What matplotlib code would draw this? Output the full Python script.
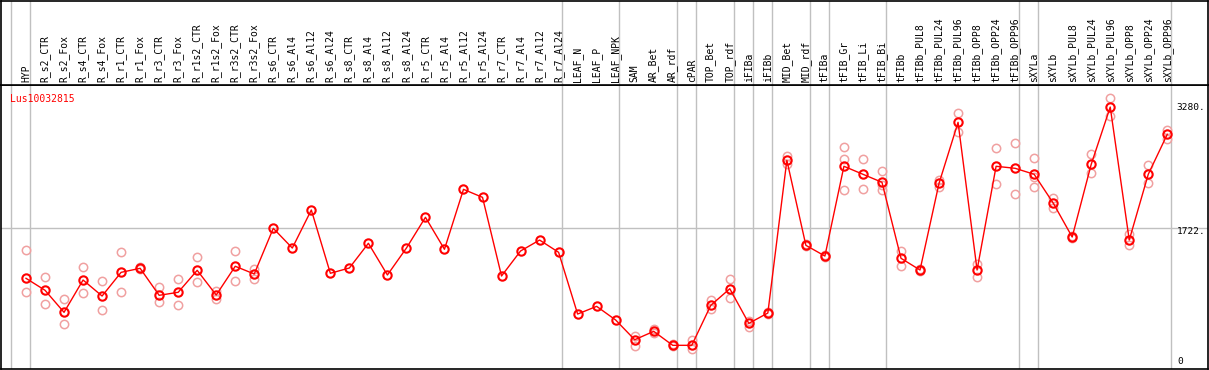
import matplotlib
matplotlib.use("Agg")
import matplotlib.pyplot as plt
import numpy as np

# sample names, left to right
samples = [
    "HYP", "R_s2_CTR", "R_s2_Fox", "R_s4_CTR", "R_s4_Fox", "R_r1_CTR", "R_r1_Fox",
    "R_r3_CTR", "R_r3_Fox", "R_r1s2_CTR", "R_r1s2_Fox", "R_r3s2_CTR", "R_r3s2_Fox",
    "R_s6_CTR", "R_s6_Al4", "R_s6_Al12", "R_s6_Al24", "R_s8_CTR", "R_s8_Al4",
    "R_s8_Al12", "R_s8_Al24", "R_r5_CTR", "R_r5_Al4", "R_r5_Al12", "R_r5_Al24",
    "R_r7_CTR", "R_r7_Al4", "R_r7_Al12", "R_r7_Al24", "LEAF_N", "LEAF_P", "LEAF_NPK",
    "SAM", "AR_Bet", "AR_rdf", "cPAR", "TOP_Bet", "TOP_rdf", "iFIBa", "iFIBb",
    "MID_Bet", "MID_rdf", "tFIBa", "tFIB_Gr", "tFIB_Li", "tFIB_Bi", "tFIBb",
    "tFIBb_PUL8", "tFIBb_PUL24", "tFIBb_PUL96", "tFIBb_OPP8", "tFIBb_OPP24", "tFIBb_OPP96",
    "sXYLa", "sXYLb", "sXYLb_PUL8", "sXYLb_PUL24", "sXYLb_PUL96", "sXYLb_OPP8",
    "sXYLb_OPP24", "sXYLb_OPP96",
]

# mean expression per sample
means = [
    1074, 920, 636, 1052, 846, 1151, 1203, 855, 894, 1177, 859, 1229, 1130,
    1718, 1464, 1954, 1139, 1207, 1525, 1117, 1464, 1860, 1448, 2220, 2117,
    1104, 1426, 1567, 1409, 614, 713, 537,
    283, 391, 211, 211, 726, 940, 494, 627,
    2594, 1499, 1361, 2517, 2414, 2311, 1332,
    1181, 2298, 3083, 1181, 2517, 2491,
    2414, 2044, 1606, 2542, 3280, 1567, 2414, 2929,
]

# individual replicates (empty where none are shown)
replicates = [
    [1439, 898], [1087, 739], [808, 482], [1216, 881], [1035, 662], [1413, 898],
    [1224, 1190], [958, 765], [1061, 726], [1345, 1023], [915, 811], [1426, 1035],
    [1194, 1061],
    [], [], [], [], [], [], [], [], [], [], [], [], [], [], [], [], [], [], [],
    [335, 198], [417, 370], [225, 200], [276, 164], [795, 675], [1061, 817],
    [528, 443], [640, 615],
    [2649, 2546], [1510, 1490], [1370, 1350], [2761, 2607, 2208], [2607, 2220],
    [2452, 2270, 2208], [1430, 1229],
    [1190, 1170], [2340, 2254], [3199, 2955], [1258, 1087], [2749, 2285], [2817, 2156],
    [2620, 2383, 2246], [2105, 1976], [1615, 1595], [2675, 2427], [3393, 3165],
    [1641, 1499], [2530, 2298], [2984, 2864],
]

# last sample index of each group (separator drawn just after it)
group_ends = [-1, 0, 28, 31, 34, 35, 37, 38, 39, 41, 42, 45, 52, 53, 60]
gene = "Lus10032815"
ref_lines = [1722, 3280, 0]

W, H = 1209, 370
x_lo, x_hi = -1.314, 62.14
y_lo, y_hi = -94, 3564
mono = "DejaVu Sans Mono"

fig = plt.figure(figsize=(W / 100, H / 100), dpi=100)
fig.patch.set_facecolor("white")

left, right = 1 / W, 1208 / W
ax = fig.add_axes([left, 1 / H, right - left, (369 - 85) / H])
hdr = fig.add_axes([left, (H - 85) / H, right - left, 84.5 / H])

x = np.arange(len(samples))

for a in (ax, hdr):
    a.set_xlim(x_lo, x_hi)
    a.set_xticks([])
    a.set_yticks([])
    for s in a.spines.values():
        s.set_color("black")
        s.set_linewidth(1.2)
    for g in group_ends:
        a.axvline(g + 0.2, color="#c0c0c0", lw=1, zorder=0)

hdr.set_ylim(0, 1)
for i, name in enumerate(samples):
    hdr.text(i, 0.03, name, rotation=90, ha="center", va="bottom",
             family=mono, fontsize=7, color="black")

ax.set_ylim(y_lo, y_hi)
ax.axhline(ref_lines[0], color="#c0c0c0", lw=1, zorder=0)

# replicates
for i, reps in enumerate(replicates):
    if reps:
        ax.plot([i] * len(reps), reps, linestyle="none", marker="o", markersize=6,
                markerfacecolor="none", markeredgecolor="#f0a0a0", markeredgewidth=1.1,
                zorder=2)

# mean line
ax.plot(x, means, color="red", lw=1, zorder=3)
ax.plot(x, means, linestyle="none", marker="o", markersize=6,
        markerfacecolor="none", markeredgecolor="red", markeredgewidth=1.5, zorder=4)

ax.text(-0.85, 3390, gene, family=mono, fontsize=7, color="red", va="center", ha="left")

# value labels on the right
lab_x = 60.5
ax.text(lab_x, ref_lines[1], f"{ref_lines[1]}.", family=mono, fontsize=6.8, va="center", ha="left")
ax.text(lab_x, ref_lines[0] - 50, f"{ref_lines[0]}.", family=mono, fontsize=6.8, va="center", ha="left")
ax.text(lab_x + 0.05, ref_lines[2], f"{ref_lines[2]}", family=mono, fontsize=6.8, va="center", ha="left")

fig.savefig("out.png", dpi=100, facecolor="white")
